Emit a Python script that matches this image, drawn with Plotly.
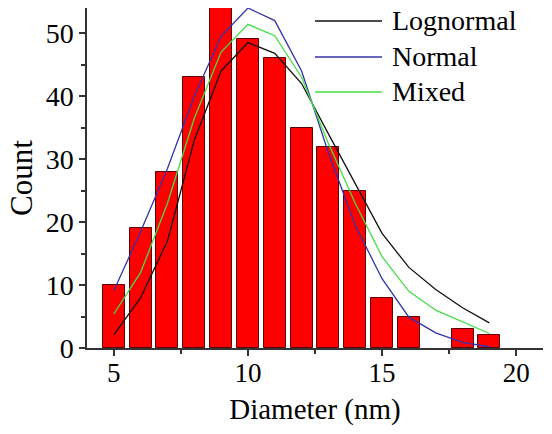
import plotly.graph_objects as go

diameter = [5, 6, 7, 8, 9, 10, 11, 12, 13, 14, 15, 16, 17, 18, 19]
counts = [10, 19, 28, 43, 54, 49, 46, 35, 32, 25, 8, 5, 0, 3, 2]
lognormal = [2.1, 8, 17, 33, 44, 48.5, 46.8, 42, 34, 26, 18.2, 12.8, 9.3, 6.4, 4]
normal = [9.1, 18.5, 28.5, 40, 49.5, 54, 52, 44, 31, 19.5, 11, 4.9, 2.4, 0.9, 0.2]
mixed = [5.4, 12, 23, 36.5, 47, 51.4, 49.6, 43, 32.5, 23, 14.5, 9, 6, 4.1, 2.3]

series_names = ["Lognormal", "Normal", "Mixed"]
series_colors = ["#111111", "#3333aa", "#44dd44"]

FONT = "Liberation Serif"

fig = go.Figure()
fig.add_trace(go.Bar(x=diameter, y=counts, width=0.82,
                     marker=dict(color="#ff0000",
                                 line=dict(color="#5a0000", width=[1 if c > 0 else 0 for c in counts])),
                     showlegend=False))
for name, vals, col in zip(series_names, [lognormal, normal, mixed], series_colors):
    fig.add_trace(go.Scatter(x=diameter, y=vals, mode="lines", name=name,
                             line=dict(color=col, width=1.3), showlegend=False))

# custom legend (long line samples as in the reference)
leg_y = [0.962, 0.856, 0.753]
for name, col, yy in zip(series_names, series_colors, leg_y):
    fig.add_shape(type="line", xref="paper", yref="paper", x0=0.5, x1=0.647, y0=yy, y1=yy,
                  line=dict(color=col, width=1.5))
    fig.add_annotation(xref="paper", yref="paper", x=0.664, y=yy, text=name, showarrow=False,
                       xanchor="left", yanchor="middle", font=dict(family=FONT, size=28, color="black"))

def axis_common(fs):
    return dict(showline=True, linecolor="#333333", linewidth=1.5, ticks="outside",
                ticklen=6, tickwidth=1.5, tickcolor="#333333", showgrid=False, zeroline=False,
                tickfont=dict(family=FONT, size=fs, color="black"))

fig.update_xaxes(range=[4, 21], tickvals=[5, 10, 15, 20], **axis_common(27),
                 ticklabelstandoff=-6,
                 minor=dict(ticks="outside", ticklen=4, tickwidth=1.5, tickcolor="#333333",
                            tickvals=[7.5, 12.5, 17.5]),
                 title=dict(text="Diameter (nm)", font=dict(family=FONT, size=29, color="black"), standoff=12))
fig.update_yaxes(range=[0, 54], tickvals=[0, 10, 20, 30, 40, 50], **axis_common(28),
                 minor=dict(ticks="outside", ticklen=4, tickwidth=1.5, tickcolor="#333333",
                            tickvals=[5, 15, 25, 35, 45]),
                 title=dict(text="Count", font=dict(family=FONT, size=31, color="black"), standoff=4))

fig.update_layout(width=552, height=434, margin=dict(l=87, r=9, t=8, b=86),
                  plot_bgcolor="white", paper_bgcolor="white", bargap=0)

fig.write_html("out.html")
